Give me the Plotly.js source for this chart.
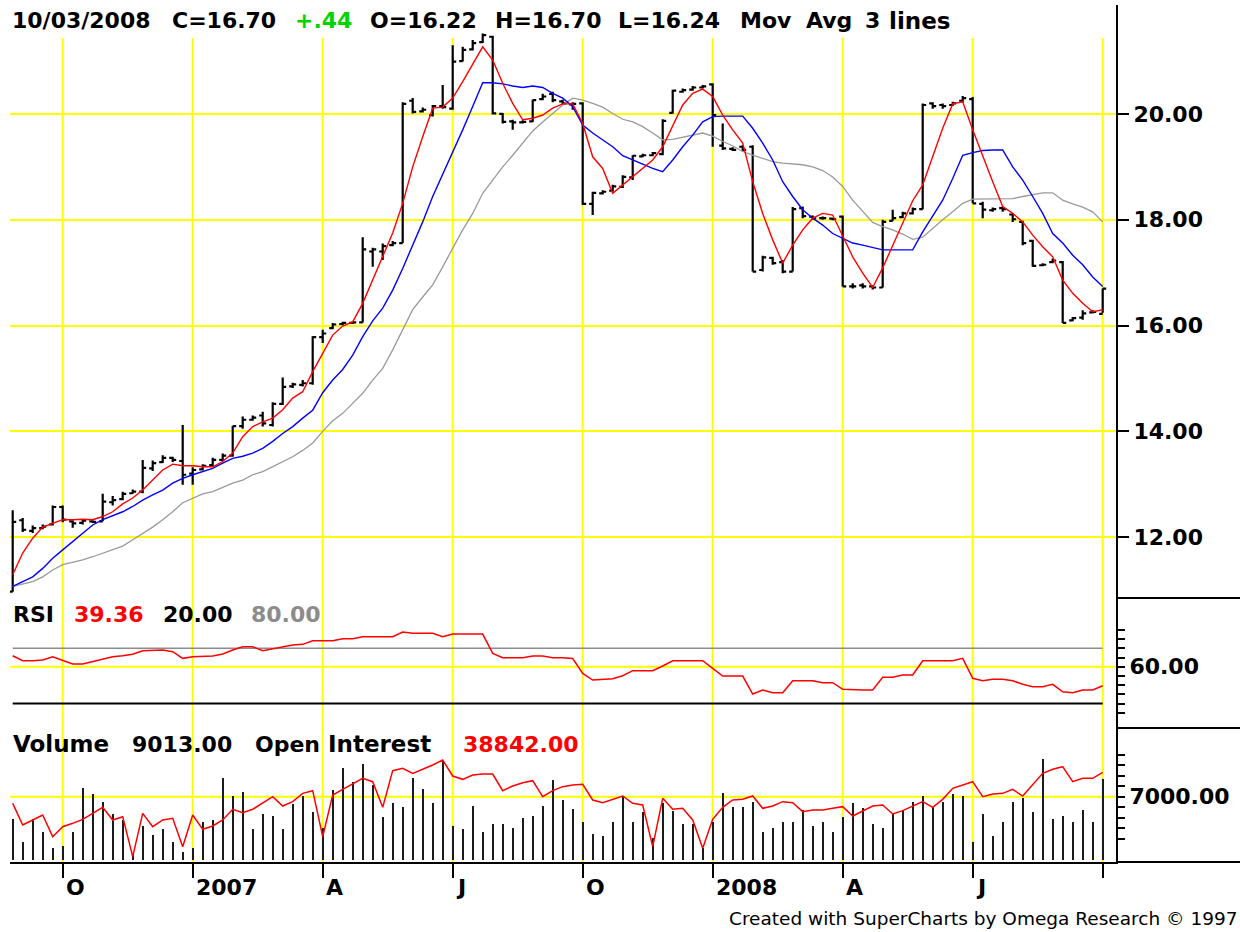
<!DOCTYPE html>
<html>
<head>
<meta charset="utf-8">
<script src="https://cdn.plot.ly/plotly-3.0.1.min.js"></script>
<style>
html,body{margin:0;padding:0;background:#ffffff;}
#chart{width:1240px;height:932px;}
</style>
</head>
<body>
<div id="chart"></div>
<script>
// ---------------- DATA (weekly bars, Sep 2006 - 10/03/2008) ----------------
const opens = [
10.97,12.32,12.12,12.17,12.24,12.57,12.30,12.27,12.30,12.30,
12.66,12.72,12.83,12.86,13.30,13.42,13.50,13.44,13.20,13.28,
13.36,13.46,13.54,14.10,14.22,14.30,14.12,14.52,14.85,14.88,
14.91,15.78,15.95,16.03,16.05,16.06,17.40,17.40,17.52,17.56,
20.25,20.05,19.98,20.15,20.10,21.00,21.22,21.36,21.46,20.00,
19.86,19.84,19.86,20.28,20.38,20.24,20.18,20.20,18.30,18.50,
18.55,18.62,18.80,19.20,19.22,19.24,20.02,20.42,20.46,20.50,
20.56,19.40,19.34,19.38,19.38,17.05,17.28,17.20,17.02,18.22,
18.06,18.03,18.02,18.06,16.74,16.76,16.74,16.72,17.98,18.05,
18.12,18.20,20.20,20.17,20.17,20.25,20.28,18.30,18.18,18.22,
18.10,17.96,17.60,17.14,17.20,17.20,16.10,16.15,16.25,16.22];
const highs = [
12.51,12.36,12.22,12.24,12.60,12.60,12.32,12.34,12.32,12.82,
12.78,12.86,12.90,13.46,13.45,13.55,13.52,14.12,13.32,13.38,
13.50,13.58,14.10,14.28,14.30,14.37,14.55,15.02,14.92,14.97,
15.80,15.92,16.05,16.07,16.08,17.67,17.47,17.55,17.60,20.22,
20.30,20.12,20.17,20.55,21.30,21.27,21.40,21.52,21.48,20.02,
19.89,19.88,20.27,20.38,20.42,20.27,20.22,20.22,18.53,18.56,
18.66,18.84,19.22,19.25,19.28,19.90,20.46,20.48,20.53,20.55,
20.58,19.82,19.37,19.41,19.41,17.32,17.30,17.24,18.24,18.25,
18.08,18.06,18.04,18.08,16.80,16.80,16.76,18.00,18.19,18.15,
18.23,20.20,20.22,20.20,20.23,20.34,20.32,18.34,18.23,18.25,
18.12,17.98,17.62,17.18,17.27,17.22,16.16,16.29,16.29,16.70];
const lows = [
10.97,12.10,12.08,12.15,12.22,12.28,12.18,12.24,12.27,12.30,
12.60,12.70,12.82,12.83,13.25,13.40,13.42,12.99,12.99,13.26,
13.34,13.44,13.52,14.05,14.20,14.09,14.09,14.50,14.82,14.85,
14.88,15.67,15.93,16.00,16.03,16.06,17.11,17.24,17.50,17.56,
20.01,20.03,19.95,20.10,20.08,20.99,21.20,21.34,19.99,19.82,
19.70,19.82,19.85,20.26,20.22,20.18,20.08,18.28,18.09,18.48,
18.53,18.60,18.75,19.18,19.20,19.22,20.01,20.40,20.44,20.48,
19.38,19.32,19.30,19.29,17.02,17.02,17.15,16.99,17.02,18.03,
18.00,18.00,17.99,16.74,16.70,16.70,16.68,16.72,17.98,18.03,
18.10,18.20,20.10,20.10,20.15,20.22,18.31,18.03,18.15,18.15,
17.96,17.52,17.11,17.12,17.18,16.05,16.08,16.11,16.23,16.24];
const closes = [
12.29,12.14,12.17,12.20,12.57,12.33,12.26,12.31,12.29,12.67,
12.70,12.82,12.86,13.31,13.40,13.50,13.46,13.18,13.27,13.35,
13.46,13.54,14.10,14.22,14.26,14.15,14.52,14.84,14.89,14.91,
15.78,15.85,16.02,16.05,16.06,17.44,17.44,17.50,17.56,20.19,
20.04,20.08,20.15,20.13,20.99,21.21,21.34,21.49,20.01,19.85,
19.84,19.85,20.26,20.33,20.26,20.20,20.19,18.30,18.51,18.53,
18.63,18.81,19.21,19.22,19.26,19.87,20.44,20.45,20.50,20.52,
19.98,19.35,19.32,19.32,17.02,17.29,17.18,17.02,18.20,18.07,
18.03,18.03,18.01,16.74,16.74,16.74,16.72,17.96,18.03,18.12,
18.20,20.17,20.15,20.15,20.20,20.30,18.31,18.19,18.20,18.20,
18.01,17.56,17.13,17.15,17.23,16.05,16.14,16.23,16.26,16.70];

// moving averages (red = fast, blue = medium, gray = slow)
const maFast = [
11.29,11.70,11.98,12.19,12.26,12.33,12.33,12.34,12.33,12.39,
12.48,12.63,12.74,12.89,13.08,13.27,13.38,13.35,13.35,13.33,
13.33,13.43,13.59,13.90,14.09,14.18,14.25,14.41,14.63,14.75,
15.13,15.48,15.82,15.99,16.07,16.42,16.86,17.30,17.75,18.31,
19.00,19.57,20.11,20.13,20.30,20.61,20.93,21.27,21.02,20.58,
20.20,19.89,19.92,19.98,20.11,20.19,20.19,19.82,19.19,18.97,
18.50,18.66,18.81,18.97,19.13,19.38,19.79,20.17,20.39,20.47,
20.33,19.98,19.70,19.45,18.72,18.12,17.62,17.18,17.52,17.81,
18.03,18.12,18.09,17.68,17.30,16.99,16.72,17.09,17.52,17.96,
18.36,18.66,19.19,19.73,20.19,20.23,19.70,19.19,18.72,18.25,
18.12,17.96,17.71,17.49,17.30,16.86,16.61,16.42,16.26,16.30];
const maMid = [
11.07,11.16,11.25,11.41,11.60,11.76,11.92,12.07,12.23,12.33,
12.40,12.48,12.58,12.70,12.80,12.89,13.02,13.11,13.18,13.24,
13.30,13.40,13.49,13.53,13.59,13.68,13.81,13.96,14.09,14.25,
14.40,14.73,14.97,15.17,15.44,15.79,16.09,16.33,16.67,17.08,
17.52,17.96,18.44,18.85,19.29,19.70,20.14,20.59,20.59,20.57,
20.53,20.50,20.53,20.50,20.39,20.30,20.14,19.79,19.64,19.51,
19.38,19.21,19.13,19.05,18.97,18.91,19.13,19.38,19.60,19.85,
19.95,19.96,19.96,19.96,19.73,19.45,19.13,18.72,18.44,18.19,
18.03,17.90,17.74,17.65,17.56,17.52,17.48,17.43,17.43,17.43,
17.43,17.77,18.06,18.37,18.78,19.22,19.27,19.31,19.32,19.32,
19.00,18.75,18.44,18.12,17.74,17.56,17.33,17.15,16.92,16.74];
const maSlow = [
11.07,11.12,11.16,11.25,11.38,11.48,11.52,11.57,11.63,11.70,
11.76,11.83,11.95,12.07,12.19,12.33,12.48,12.65,12.74,12.82,
12.86,12.94,13.02,13.08,13.18,13.24,13.33,13.43,13.52,13.64,
13.78,14.00,14.20,14.34,14.53,14.72,14.97,15.19,15.54,15.92,
16.30,16.54,16.77,17.11,17.46,17.81,18.12,18.50,18.75,19.00,
19.22,19.45,19.68,19.85,20.01,20.17,20.30,20.26,20.20,20.13,
20.01,19.90,19.85,19.76,19.64,19.51,19.52,19.56,19.60,19.64,
19.58,19.48,19.40,19.29,19.22,19.16,19.10,19.07,19.05,19.04,
19.00,18.93,18.81,18.63,18.37,18.15,17.95,17.87,17.81,17.73,
17.63,17.67,17.84,18.00,18.15,18.31,18.39,18.39,18.39,18.39,
18.40,18.44,18.47,18.51,18.51,18.37,18.30,18.24,18.15,17.96];

const rsi = [
71.9,66.5,66.5,67.3,70.9,66.5,62.9,62.9,65.4,68.4,
70.9,71.9,73.5,77.4,78.2,78.2,76.3,69.1,70.9,70.9,
71.6,73.8,78.2,81.7,81.7,77.4,79.6,81.7,83.6,84.3,
88.3,88.3,88.3,90.4,90.4,92.6,92.6,92.6,92.6,97.7,
96.3,96.3,96.3,92.6,95.5,95.5,95.5,95.5,74.5,69.8,
69.8,69.8,71.6,71.6,69.8,69.8,68.9,52.8,45.5,46.3,
47.0,50.2,55.7,55.7,55.7,60.8,66.5,66.5,66.5,66.5,
58.3,49.9,49.9,49.9,30.3,34.7,31.7,31.7,44.8,44.8,
44.8,42.6,42.6,35.4,34.7,34.7,34.7,48.5,48.5,51.0,
51.0,66.5,66.5,66.5,66.5,69.1,47.4,44.8,46.3,46.3,
44.8,40.9,38.3,38.3,40.9,32.8,31.7,34.7,34.7,39.36];
const rsiLower = 20.00;
const rsiUpper = 80.00;

const volume = [
4489,2000,4489,3111,1333,1522,3111,7933,7300,6444,
5044,4411,711,3744,2744,3378,2000,889,1333,4222,
4411,9111,7078,7556,3378,5078,4856,3378,6189,7078,
5333,3489,7744,10222,8667,10633,8300,4711,6267,5822,
9111,7822,6267,11000,3744,3378,5967,3111,3967,3967,
3556,4667,4889,5967,8856,6633,5600,4222,2856,2633,
4222,7078,4222,5333,2378,6267,5444,3967,3967,1267,
4222,7378,5822,5822,6444,3111,3489,4222,4222,5522,
3744,4222,3111,4711,6267,5711,3967,3489,5078,5522,
6444,7078,5822,6444,7300,7078,2000,5078,2633,4222,
6444,6822,5333,11156,4489,4856,4222,5522,4222,9013];
const openInterest = [
34200,30950,31700,32450,29200,30700,31200,31800,32700,33600,
31700,32200,26200,32700,30700,31700,31950,27700,32450,30300,
30800,31700,33300,32800,33300,34200,35200,33800,34450,35700,
36100,29200,35450,36300,37100,37950,37450,33600,39100,39450,
38700,39300,39950,40700,38300,37800,38450,38600,38600,36100,
36800,37300,37600,35200,36100,36700,36950,37050,34700,34300,
34800,35300,34200,33950,27700,34950,33300,33450,31700,27450,
31800,33600,34700,34800,35300,33450,33800,34450,34300,32950,
33200,33200,33450,33700,32300,33100,33800,33950,32600,33100,
33800,34450,33600,34800,36450,36950,37450,35200,35600,35700,
36300,35300,36950,38700,39300,39700,37450,37950,37950,38842];

// time axis: quarter-start weeks (bar positions) and their labels
const tickIdx = [5,18,31,44,57,70,83,96,109];
const tickLabels = ['O','2007','A','J','O','2008','A','J',''];
const priceTicks = [12,14,16,18,20];
const rsiTicks = [10,20,30,40,50,60,70,80,90,100];
const rsiLabeled = 60;
const volTicks = [2333,3500,4667,5833,7000,8167,9333,10500,11667];
const volLabeled = 7000;

// header values
const hdr = {date:'10/03/2008', C:'16.70', chg:'+.44', O:'16.22', H:'16.70', L:'16.24'};

// ---------------- LAYOUT HELPERS ----------------
const W = 1240, H = 932;
const PL = 10, PR = 1116, PT = 5, PB = 862;
const px2x = px => (px - PL) / (PR - PL);
const px2y = py => (PB - py) / (PB - PT);
const weeks = closes.map((_, i) => i);
const n = weeks.length;

const FONT = 'DejaVu Sans, Verdana, sans-serif';
const boldFont = (size, color) => ({family: FONT, size: size, color: color || '#000', weight: 'bold'});

const traces = [];
// moving averages + price bars
traces.push({type:'scatter', mode:'lines', x:weeks, y:maSlow, xaxis:'x', yaxis:'y',
  line:{color:'#9a9a9a', width:1.3}, hoverinfo:'skip', showlegend:false});
traces.push({type:'scatter', mode:'lines', x:weeks, y:maMid, xaxis:'x', yaxis:'y',
  line:{color:'#0000ff', width:1.4}, hoverinfo:'skip', showlegend:false});
traces.push({type:'ohlc', x:weeks, open:opens, high:highs, low:lows, close:closes,
  xaxis:'x', yaxis:'y', tickwidth:0.35,
  increasing:{line:{color:'#000', width:2.2}}, decreasing:{line:{color:'#000', width:2.2}},
  hoverinfo:'skip', showlegend:false});
traces.push({type:'scatter', mode:'lines', x:weeks, y:maFast, xaxis:'x', yaxis:'y',
  line:{color:'#ff0000', width:1.4}, hoverinfo:'skip', showlegend:false});

// RSI
traces.push({type:'scatter', mode:'lines', x:[weeks[0], weeks[n-1]], y:[rsiUpper, rsiUpper],
  xaxis:'x', yaxis:'y2', line:{color:'#8c8c8c', width:1.5}, hoverinfo:'skip', showlegend:false});
traces.push({type:'scatter', mode:'lines', x:[weeks[0], weeks[n-1]], y:[rsiLower, rsiLower],
  xaxis:'x', yaxis:'y2', line:{color:'#000', width:2}, hoverinfo:'skip', showlegend:false});
traces.push({type:'scatter', mode:'lines', x:weeks, y:rsi, xaxis:'x', yaxis:'y2',
  line:{color:'#ff0000', width:1.5}, hoverinfo:'skip', showlegend:false});

// Volume + Open interest
traces.push({type:'bar', x:weeks, y:volume, xaxis:'x', yaxis:'y3', width:0.22,
  marker:{color:'#1a1a1a', line:{width:0}}, hoverinfo:'skip', showlegend:false});
traces.push({type:'scatter', mode:'lines', x:weeks, y:openInterest, xaxis:'x', yaxis:'y4',
  line:{color:'#ff0000', width:1.5}, hoverinfo:'skip', showlegend:false});

const yCommon = {
  side:'right', anchor:'x', showline:true, linecolor:'#000', linewidth:2,
  ticks:'outside', ticklen:11, tickwidth:2, tickcolor:'#000',
  showgrid:true, gridcolor:'#ffff00', gridwidth:2, zeroline:false,
  tickfont: boldFont(22), automargin:false, fixedrange:true
};

const layout = {
  width:W, height:H,
  margin:{l:PL, r:W-PR, t:PT, b:H-PB, pad:0},
  paper_bgcolor:'#ffffff', plot_bgcolor:'#ffffff',
  showlegend:false, bargap:0,
  xaxis:{
    domain:[0,1], anchor:'y3', range:[(PL-12.7)/10, (PR-12.7)/10],
    showgrid:false, zeroline:false, showline:true, linecolor:'#000', linewidth:2,
    tickmode:'array', tickvals:tickIdx, ticks:'outside', ticklen:14, tickwidth:2, tickcolor:'#000',
    showticklabels:false, rangeslider:{visible:false}, fixedrange:true, automargin:false
  },
  yaxis: Object.assign({}, yCommon, {
    domain:[px2y(598), 1], range:[10.85, 22.06],
    tickmode:'array', tickvals:priceTicks, ticktext:priceTicks.map(v => v.toFixed(2))
  }),
  yaxis2: Object.assign({}, yCommon, {
    domain:[px2y(728), px2y(598)], range:[-6.6, 134.7],
    tickmode:'array', tickvals:rsiTicks,
    ticktext:rsiTicks.map(v => v === rsiLabeled ? v.toFixed(2) : ''),
    ticklen:7, tickwidth:2, showgrid:false
  }),
  yaxis3: Object.assign({}, yCommon, {
    domain:[0, px2y(728)], range:[-256, 14633],
    tickmode:'array', tickvals:volTicks,
    ticktext:volTicks.map(v => v === volLabeled ? v.toFixed(2) : ''),
    ticklen:7, tickwidth:2, showgrid:false
  }),
  yaxis4:{overlaying:'y3', anchor:'x', side:'right', range:[25400, 45500], visible:false, fixedrange:true},
  shapes:[], annotations:[]
};

// vertical yellow grid lines at quarter starts
tickIdx.forEach(t => layout.shapes.push({type:'line', xref:'x', yref:'paper', x0:t, x1:t,
  y0:0, y1:px2y(38), line:{color:'#ffff00', width:2}, layer:'below'}));
// yellow grid lines at the labeled RSI / volume levels
layout.shapes.push({type:'line', xref:'paper', yref:'y2', x0:0, x1:1, y0:rsiLabeled, y1:rsiLabeled,
  line:{color:'#ffff00', width:2}, layer:'below'});
layout.shapes.push({type:'line', xref:'paper', yref:'y3', x0:0, x1:1, y0:volLabeled, y1:volLabeled,
  line:{color:'#ffff00', width:2}, layer:'below'});
// separator lines in the right scale area
[598, 728, 862].forEach(py => layout.shapes.push({type:'line', xref:'paper', yref:'paper',
  x0:1, x1:px2x(1240), y0:px2y(py), y1:px2y(py), line:{color:'#000', width:2}}));

function txt(text, pxLeft, pyMid, font) {
  layout.annotations.push({text:text, xref:'paper', yref:'paper', x:px2x(pxLeft), y:px2y(pyMid),
    xanchor:'left', yanchor:'middle', showarrow:false, font:font, borderpad:0});
}
// header
txt(hdr.date, 11, 21, boldFont(22));
txt('C=' + hdr.C, 171, 21, boldFont(22));
txt(hdr.chg, 294, 21, boldFont(22, '#00d400'));
txt('O=' + hdr.O, 369, 21, boldFont(22));
txt('H=' + hdr.H, 494, 21, boldFont(22));
txt('L=' + hdr.L, 617, 21, boldFont(22));
txt('Mov', 739, 21, boldFont(22));
txt('Avg', 805, 21, boldFont(22));
txt('3', 864, 21, boldFont(22));
txt('lines', 888, 21, boldFont(23));
// RSI header
txt('RSI', 12, 614, boldFont(22));
txt(rsi[n-1].toFixed(2), 73, 614, boldFont(22, '#ff0000'));
txt(rsiLower.toFixed(2), 162, 614, boldFont(22));
txt(rsiUpper.toFixed(2), 250, 614, boldFont(22, '#8c8c8c'));
// Volume header
txt('Volume', 12, 744, boldFont(23));
txt(volume[n-1].toFixed(2), 131, 744, boldFont(22));
txt('Open', 254, 744, boldFont(22));
txt('Interest', 327, 744, boldFont(23));
txt(openInterest[n-1].toFixed(2), 462, 744, boldFont(22, '#ff0000'));
// time labels, left-aligned after each tick
tickIdx.forEach((t, k) => {
  if (!tickLabels[k]) return;
  layout.annotations.push({text:tickLabels[k], xref:'x', yref:'paper', x:t, y:px2y(887),
    xanchor:'left', yanchor:'middle', xshift:2, showarrow:false, font:boldFont(22), borderpad:0});
});
// footer
layout.annotations.push({text:'Created with SuperCharts by Omega Research \u00a9 1997',
  xref:'paper', yref:'paper', x:px2x(1238), y:px2y(918), xanchor:'right', yanchor:'middle',
  showarrow:false, font:{family:FONT, size:18.5, color:'#000'}, borderpad:0});

Plotly.newPlot('chart', traces, layout, {staticPlot:true, displayModeBar:false});
</script>
</body>
</html>
